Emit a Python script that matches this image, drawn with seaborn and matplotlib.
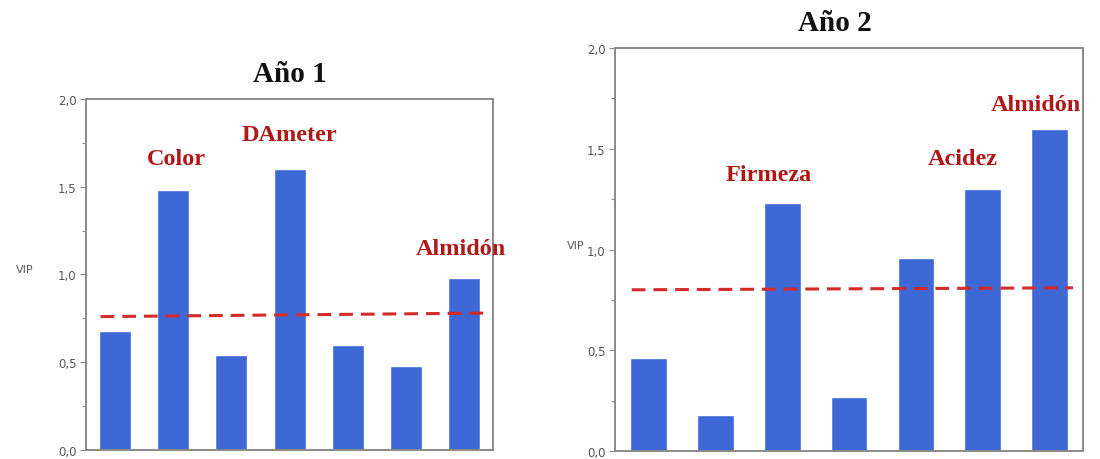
import pandas as pd
import numpy as np
import seaborn as sns
from matplotlib import pyplot as plt
from matplotlib.ticker import FixedLocator, FuncFormatter

# VIP values
variables = ["V1", "V2", "V3", "V4", "V5", "V6", "V7"]
vip_year1 = [0.68, 1.48, 0.54, 1.60, 0.60, 0.48, 0.98]
vip_year2 = [0.46, 0.18, 1.23, 0.27, 0.96, 1.30, 1.60]
threshold_year1 = [0.76, 0.78]   # dashed line, left end / right end
threshold_year2 = [0.80, 0.81]
titles = ["Año 1", "Año 2"]
labels_year1 = [(1, "Color", 1.66), (3, "DAmeter", 1.80), (6, "Almidón", 1.15)]
labels_year2 = [(2, "Firmeza", 1.37), (5, "Acidez", 1.45), (6, "Almidón", 1.72)]
major_ticks = [0.0, 0.5, 1.0, 1.5, 2.0]

sns.set_style("white")
plt.rcParams["font.family"] = ["DejaVu Sans"]

BAR = "#3d68d6"
RED = "#d42a2a"
LABEL_RED = "#b01818"
SPINE = "#8a8a8a"

fig = plt.figure(figsize=(11, 4.6), dpi=100)
ax1 = fig.add_axes([0.0782, 0.0196, 0.370, 0.763])
ax2 = fig.add_axes([0.5591, 0.0174, 0.4255, 0.876])


def draw_panel(ax, values, thr, title, labels, title_x, lab_dx, ylab_x):
    df = pd.DataFrame({"var": variables, "vip": values})
    sns.barplot(data=df, x="var", y="vip", color=BAR, saturation=1,
                width=0.55, ax=ax)
    ax.plot([-0.25, len(variables) - 0.65], thr, color=RED,
            linestyle=(0, (4.5, 2.6)), linewidth=2.2, zorder=3)
    ax.set_xlim(-0.5, len(variables) - 0.5)
    ax.set_ylim(0, 2.0)
    ax.yaxis.set_major_locator(FixedLocator(major_ticks))
    ax.yaxis.set_minor_locator(FixedLocator(np.arange(0.25, 2.0, 0.5)))
    ax.yaxis.set_major_formatter(FuncFormatter(lambda v, p: f"{v:.1f}".replace(".", ",")))
    ax.tick_params(axis="y", which="major", length=4, width=0.8, color=SPINE,
                   labelsize=8.5, labelcolor="#555555", pad=3, left=True)
    ax.tick_params(axis="y", which="minor", length=3, width=0.8, color=SPINE, left=True)
    ax.set_xticks([])
    ax.set_xlabel("")
    ax.set_ylabel("VIP", rotation=0, fontsize=8, color="#555555")
    ax.yaxis.set_label_coords(ylab_x, 0.5)
    for s in ax.spines.values():
        s.set_visible(True)
        s.set_color(SPINE)
        s.set_linewidth(1.4)
    ax.set_title(title, fontsize=21, fontweight="bold", color="#111111",
                 family=["Liberation Serif"], pad=13, x=title_x)
    for idx, text, y in labels:
        ax.text(idx + lab_dx.get(text, 0), y, text, ha="center", va="center",
                fontsize=17.5, fontweight="bold", color=LABEL_RED,
                family=["Liberation Serif"], clip_on=False)


draw_panel(ax1, vip_year1, threshold_year1, titles[0], labels_year1,
           0.5, {"Color": 0.05, "DAmeter": 0.0, "Almidón": -0.05}, -0.15)
draw_panel(ax2, vip_year2, threshold_year2, titles[1], labels_year2,
           0.47, {"Firmeza": -0.2, "Acidez": -0.3, "Almidón": -0.2}, -0.085)

fig.savefig("out.png", dpi=100)
